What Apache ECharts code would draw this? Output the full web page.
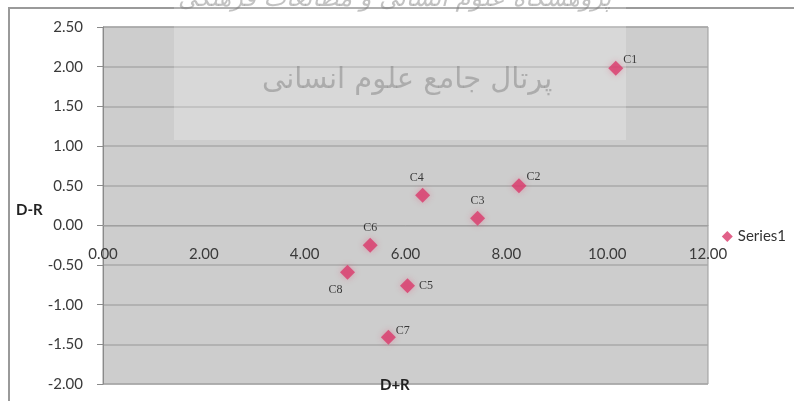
<!DOCTYPE html>
<html>
<head>
<meta charset="utf-8">
<script src="https://cdn.jsdelivr.net/npm/echarts@6/dist/echarts.min.js"></script>
<style>
  html, body { margin: 0; padding: 0; background: #fff; }
  #chart { width: 794px; height: 401px; }
</style>
</head>
<body>
<div id="chart"></div>
<script>
// Item names and their (D+R, D-R) coordinates
const names = ['C1', 'C2', 'C3', 'C4', 'C5', 'C6', 'C7', 'C8'];
const dPlusR = [10.17, 8.25, 7.43, 6.34, 6.04, 5.30, 5.66, 4.85];
const dMinusR = [1.98, 0.50, 0.09, 0.38, -0.76, -0.25, -1.41, -0.59];
// Where each point label sits relative to its marker
const labelPos = ['right', 'right', 'top', 'top', 'right', 'top', 'right', 'bottom'];
const labelOffset = [[-4, -8], [-4, -9], [0, 0], [-6, 0], [0, 0], [0, 0], [-4, -6], [-12, 0]];

const xTicks = { min: 0, max: 12, step: 2 };
const yTicks = { min: -2, max: 2.5, step: 0.5 };

const seriesName = 'Series1';
const xTitle = 'D+R';
const yTitle = 'D-R';

const chart = echarts.init(document.getElementById('chart'), null, { renderer: 'canvas' });

const points = names.map((n, i) => ({
  name: n,
  value: [dPlusR[i], dMinusR[i]],
  label: { position: labelPos[i], offset: labelOffset[i] }
}));

// Plot rectangle (pixels)
const gridTop = 27, gridBottom = 17, chartH = 401;
const plotH = chartH - gridTop - gridBottom;
// The horizontal axis crosses the vertical one at D-R = 0
const crossOffset = -plotH * (0 - yTicks.min) / (yTicks.max - yTicks.min);

const pink = '#d93a6c';
const axisFont = { fontFamily: 'Lato', fontSize: 15, color: '#3a3a3a' };

chart.setOption({
  animation: false,
  backgroundColor: '#ffffff',
  grid: { left: 103, right: 86, top: gridTop, bottom: gridBottom, show: true, backgroundColor: '#cdcdcd', borderColor: '#9a9a9a', borderWidth: 1 },
  xAxis: {
    type: 'value',
    min: xTicks.min, max: xTicks.max, interval: xTicks.step,
    offset: crossOffset,
    axisLine: { show: true, onZero: false, lineStyle: { color: '#a0a0a0' } },
    axisTick: { show: false },
    splitLine: { show: false },
    axisLabel: Object.assign({ margin: 21, formatter: v => v.toFixed(2) }, axisFont)
  },
  yAxis: {
    type: 'value',
    min: yTicks.min, max: yTicks.max, interval: yTicks.step,
    axisLine: { show: true, onZero: false, lineStyle: { color: '#8a8a8a' } },
    axisTick: { show: true, length: 6, lineStyle: { color: '#8a8a8a' } },
    splitLine: { show: true, lineStyle: { color: '#a9a9a9', width: 1.5 } },
    axisLabel: Object.assign({ margin: 20, formatter: v => v.toFixed(2) }, axisFont)
  },
  legend: {
    show: true,
    right: 3, top: 224,
    orient: 'vertical',
    icon: 'diamond',
    itemWidth: 11, itemHeight: 11,
    itemGap: 4,
    textStyle: { fontFamily: 'Lato', fontSize: 15, color: '#333' },
    data: [seriesName]
  },
  graphic: [
    // outer chart frame
    { type: 'polyline', shape: { points: [[9, 401], [9, 8], [794, 8]] }, style: { stroke: '#9a9a9a', lineWidth: 2, fill: null }, z: 1 },
    // pale band with the portal inscription
    { type: 'rect', shape: { x: 174, y: 0, width: 452, height: 140 }, style: { fill: 'rgba(255,255,255,0.22)' }, z: 2, silent: true },
    { type: 'text', left: 178, top: -12, style: { text: 'پژوهشگاه علوم انسانی و مطالعات فرهنگی', font: 'italic 24px "DejaVu Sans"', fill: 'rgba(120,120,120,0.45)' }, z: 2, silent: true },
    { type: 'text', left: 262, top: 66, style: { text: 'پرتال جامع علوم انسانی', font: '29px "DejaVu Sans"', fill: 'rgba(120,120,120,0.45)' }, z: 2, silent: true },
    // axis titles
    { type: 'text', left: 16, top: 203, style: { text: yTitle, font: 'bold 15px Lato', fill: '#222' }, z: 5 },
    { type: 'text', left: 380, top: 378, style: { text: xTitle, font: 'bold 15px Lato', fill: '#222' }, z: 5 }
  ],
  series: [{
    name: seriesName,
    type: 'scatter',
    symbol: 'diamond',
    symbolSize: 15,
    itemStyle: { color: pink, shadowColor: 'rgba(230,80,120,0.5)', shadowBlur: 6 },
    label: {
      show: true,
      formatter: p => p.name,
      fontFamily: 'Liberation Serif',
      fontSize: 12,
      color: '#111',
      distance: 4
    },
    data: points,
    z: 4
  }]
});
</script>
</body>
</html>
